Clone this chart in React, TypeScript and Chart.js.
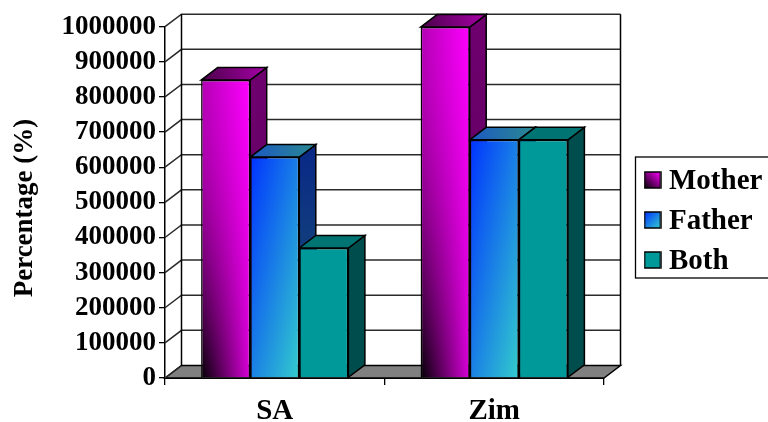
import React, { useEffect, useRef } from "react";
import { Chart, registerables } from "chart.js";

Chart.register(...registerables);

const categories = ["SA", "Zim"];
const seriesNames = ["Mother", "Father", "Both"];
const mother = [848000, 999000];
const father = [629000, 678000];
const both = [370000, 678000];
const valueAxisTitle = "Percentage (%)";

const FONT = "'Liberation Serif', serif";
const DEPTH_X = 16.5;
const DEPTH_Y = -12.5;
const CATEGORY_PCT = 0.671;

type Stop = [number, string];
const fatherStops: Stop[] = [[0, "#0033ff"], [1, "#33cccc"]];

const shade = (t: number) => `rgb(${Math.round(255 * t)},0,${Math.round(255 * t)})`;

// Black-to-magenta shading: darkest in the lower left corner, brightest on the upper right.
function motherFill(chart: any, x: number, y: number, w: number, h: number) {
  const cv = document.createElement("canvas");
  cv.width = chart.width;
  cv.height = chart.height;
  const c = cv.getContext("2d")!;
  for (let r = 0; r < Math.ceil(h) + 1; r++) {
    const v = Math.min(1, r / h);
    const g = c.createLinearGradient(x, 0, x + w, 0);
    g.addColorStop(0, shade(0.7 * (1 - v * v)));
    g.addColorStop(1, shade(1 - 0.15 * v));
    c.fillStyle = g;
    c.fillRect(x - 2, Math.floor(y) + r, w + 4, 1);
  }
  return chart.ctx.createPattern(cv, "no-repeat");
}

function diagonalGradient(ctx: CanvasRenderingContext2D, x: number, y: number, w: number, h: number, stops: Stop[]) {
  const ax = 0.5 / w;
  const ay = 0.5 / h;
  const len2 = ax * ax + ay * ay;
  const g = ctx.createLinearGradient(x, y, x + ax / len2, y + ay / len2);
  stops.forEach(([t, col]) => g.addColorStop(t, col));
  return g;
}

function barBox(c: any) {
  const { chart, dataIndex, datasetIndex } = c;
  const xs = chart.scales.x;
  const ys = chart.scales.y;
  const catW = xs.width / categories.length;
  const groupW = catW * CATEGORY_PCT;
  const barW = groupW / seriesNames.length;
  const left = xs.getPixelForValue(dataIndex) - groupW / 2 + datasetIndex * barW;
  const top = ys.getPixelForValue(c.raw);
  const base = ys.getPixelForValue(0);
  return { left, top, barW, h: base - top };
}

const frontFills = [
  (c: any) => {
    const b = barBox(c);
    return motherFill(c.chart, b.left, b.top, b.barW, b.h);
  },
  (c: any) => {
    const b = barBox(c);
    return diagonalGradient(c.chart.ctx, b.left, b.top, b.barW, b.h, fatherStops);
  },
  "#009999",
];

const sideColors = [
  ["#6e006e", "#5a005a"],
  ["#0a2a86", "#1a5a70"],
  ["#004d4d", "#004d4d"],
];
const topColors = [
  ["#4a004a", "#a800a8"],
  ["#1c58c4", "#2a8a90"],
  ["#007373", "#007373"],
];

// Legend key: a bordered square placed above the middle of its tile so it lines up with the text.
function swatch(k: number) {
  const cv = document.createElement("canvas");
  cv.width = 18;
  cv.height = 22;
  const ctx = cv.getContext("2d")!;
  let fill: any = "#009999";
  if (k === 0) {
    fill = ctx.createLinearGradient(1, 17, 17, 1);
    fill.addColorStop(0, "#000000");
    fill.addColorStop(1, "#ff00ff");
  } else if (k === 1) {
    fill = diagonalGradient(ctx, 1, 1, 16, 16, fatherStops);
  }
  ctx.fillStyle = fill;
  ctx.fillRect(1, 1, 16, 16);
  ctx.strokeStyle = "#000";
  ctx.lineWidth = 1.5;
  ctx.strokeRect(1, 1, 16, 16);
  return cv;
}

function poly(ctx: CanvasRenderingContext2D, pts: number[][], fill: any) {
  ctx.beginPath();
  pts.forEach(([x, y], i) => (i ? ctx.lineTo(x, y) : ctx.moveTo(x, y)));
  ctx.closePath();
  ctx.fillStyle = fill;
  ctx.fill();
  ctx.stroke();
}

// Back wall, left wall, floor and the receding faces of every bar.
const depthPlugin = {
  id: "depth",
  afterLayout(chart: any) {
    const lg = chart.legend;
    lg.left = 639.5;
    lg.top = 156.5;
    lg.right = 768;
    lg.bottom = 300;
    lg.width = lg.right - lg.left;
    lg.height = lg.bottom - lg.top;
  },
  beforeDatasetsDraw(chart: any) {
    const { ctx, chartArea: a, scales } = chart;
    const y = scales.y;
    const bx0 = a.left + DEPTH_X;
    const bx1 = a.right + DEPTH_X;
    ctx.save();
    ctx.strokeStyle = "#000";
    ctx.lineWidth = 1.5;
    poly(
      ctx,
      [[a.left, a.bottom], [bx0, a.bottom + DEPTH_Y], [bx1, a.bottom + DEPTH_Y], [a.right, a.bottom]],
      "#808080"
    );
    y.ticks.forEach((t: any) => {
      const py = y.getPixelForValue(t.value);
      ctx.beginPath();
      ctx.moveTo(a.left, py);
      ctx.lineTo(bx0, py + DEPTH_Y);
      if (t.value !== 0) ctx.lineTo(bx1, py + DEPTH_Y);
      ctx.strokeStyle = "#2a2a2a";
      ctx.stroke();
    });
    ctx.strokeStyle = "#000";
    ctx.beginPath();
    ctx.moveTo(bx0, a.top + DEPTH_Y);
    ctx.lineTo(bx0, a.bottom + DEPTH_Y);
    ctx.moveTo(bx1, a.top + DEPTH_Y);
    ctx.lineTo(bx1, a.bottom + DEPTH_Y);
    ctx.stroke();

    chart.data.labels.forEach((_: string, i: number) => {
      chart.data.datasets.forEach((_d: any, k: number) => {
        const bar = chart.getDatasetMeta(k).data[i].getProps(["x", "y", "base", "width"], true);
        const l = bar.x - bar.width / 2;
        const r = bar.x + bar.width / 2;
        const sg = ctx.createLinearGradient(r, bar.y, r + DEPTH_X, bar.base);
        sg.addColorStop(0, sideColors[k][0]);
        sg.addColorStop(1, sideColors[k][1]);
        poly(ctx, [[r, bar.y], [r + DEPTH_X, bar.y + DEPTH_Y], [r + DEPTH_X, bar.base + DEPTH_Y], [r, bar.base]], sg);
        const tg = ctx.createLinearGradient(l, bar.y, r + DEPTH_X, bar.y + DEPTH_Y);
        tg.addColorStop(0, topColors[k][0]);
        tg.addColorStop(1, topColors[k][1]);
        poly(ctx, [[l, bar.y], [l + DEPTH_X, bar.y + DEPTH_Y], [r + DEPTH_X, bar.y + DEPTH_Y], [r, bar.y]], tg);
      });
    });
    ctx.restore();
  },
  afterDraw(chart: any) {
    const { ctx } = chart;
    ctx.save();
    ctx.strokeStyle = "#000";
    ctx.lineWidth = 1.3;
    ctx.strokeRect(635.5, 157, 140, 121);
    // Value axis title, centred slightly below the middle of the axis.
    ctx.translate(25, 208);
    ctx.rotate(-Math.PI / 2);
    ctx.font = `bold 27px ${FONT}`;
    ctx.fillStyle = "#000";
    ctx.textAlign = "center";
    ctx.textBaseline = "middle";
    ctx.fillText(valueAxisTitle, 0, 0);
    ctx.restore();
  },
};

export default function App() {
  const ref = useRef<HTMLCanvasElement>(null);

  useEffect(() => {
    const datasets = [mother, father, both].map((data, k) => ({
      label: seriesNames[k],
      data,
      backgroundColor: frontFills[k],
      borderColor: "#000",
      borderWidth: 1.5,
      categoryPercentage: CATEGORY_PCT,
      barPercentage: 1,
    }));
    const font = { family: FONT, size: 27, weight: "bold" as const };
    const largeFont = { ...font, size: 29 };
    const chart = new Chart(ref.current!, {
      type: "bar",
      data: { labels: categories, datasets },
      plugins: [depthPlugin],
      options: {
        animation: false,
        responsive: false,
        layout: { padding: { top: 26.7, right: 164, left: 0, bottom: 0 } },
        plugins: {
          tooltip: { enabled: false },
          legend: {
            position: "chartArea" as any,
            align: "start",
            labels: {
              font: largeFont,
              color: "#000",
              padding: 11,
              boxWidth: 4,
              boxHeight: 17,
              usePointStyle: true,
              generateLabels: () =>
                seriesNames.map((text, k) => ({
                  text,
                  pointStyle: swatch(k),
                  datasetIndex: k,
                })),
            },
          },
        },
        scales: {
          x: {
            afterFit: (s: any) => { s.height = 44; },
            grid: { drawOnChartArea: false, tickLength: 7, color: "#000", lineWidth: 1.3, offset: true },
            border: { color: "#000", width: 2 },
            ticks: { font: largeFont, color: "#000", padding: 9 },
          },
          y: {
            min: 0,
            max: 1000000,
            afterFit: (s: any) => { s.width = 165; },
            grid: { drawOnChartArea: false, tickLength: 6, color: "#000", lineWidth: 1.3 },
            border: { color: "#000", width: 1.5 },
            ticks: {
              stepSize: 100000,
              autoSkip: false,
              font,
              color: "#000",
              padding: 3,
              callback: (v: any) => String(v),
            },
          },
        },
      },
    });
    return () => chart.destroy();
  }, []);

  return (
    <div style={{ position: "fixed", left: 0, top: 0, width: 768, height: 422, background: "#fff" }}>
      <canvas ref={ref} width={768} height={422} style={{ display: "block" }} />
    </div>
  );
}
